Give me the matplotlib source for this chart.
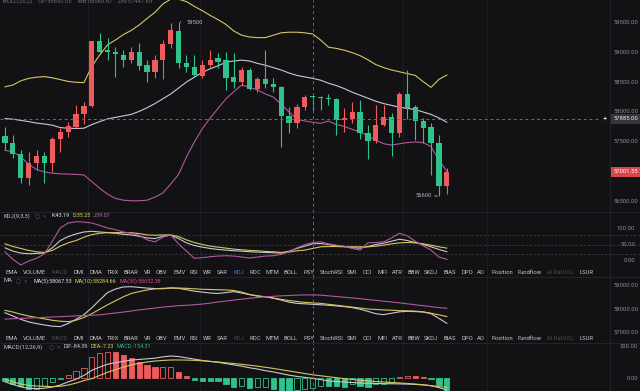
import numpy as np
import matplotlib
matplotlib.use("Agg")
import matplotlib.pyplot as plt
from matplotlib.transforms import blended_transform_factory
from matplotlib.lines import Line2D

plt.rcParams['font.family'] = ['Roboto', 'DejaVu Sans']

# ================= 数据 =================
opens  = [57600, 57478, 57300, 56906, 57144, 57267, 57156, 57544, 57661, 57756,
          57967, 58100, 59189, 59033, 58994, 58950, 58867, 58994, 58783, 58661,
          58867, 59128, 59356, 58811, 58756, 58606, 58783, 58894, 58867, 58589,
          58494, 58700, 58378, 58550, 58467, 58411, 57939, 57822, 58078, 58261,
          58250, 58233, 58211, 57867, 57883, 57994, 57644, 57517, 57783, 57922,
          57644, 58300, 58078, 57856, 57756, 57478, 56772]
closes = [57478, 57300, 56894, 57144, 57267, 57156, 57544, 57672, 57767, 57967,
          58100, 59189, 59006, 58994, 58967, 58867, 58994, 58772, 58661, 58867,
          59128, 59367, 58811, 58756, 58617, 58783, 58867, 58839, 58572, 58494,
          58700, 58378, 58550, 58467, 58411, 57939, 57822, 58078, 58244, 58250,
          58239, 58222, 57867, 57894, 57994, 57644, 57517, 57783, 57922, 57644,
          58300, 58061, 57856, 57739, 57478, 56772, 57001.55]
highs  = [57756, 57617, 57367, 57339, 57367, 57339, 57589, 57728, 57839, 58117,
          58172, 59189, 59311, 59228, 59089, 59033, 59089, 59144, 58867, 58950,
          59200, 59489, 59500, 58950, 58950, 58867, 59033, 58978, 59006, 58978,
          58756, 58728, 58589, 59033, 58561, 58433, 58089, 58133, 58283, 58272,
          58261, 58294, 58228, 58061, 58172, 58200, 57783, 58117, 58117, 57978,
          58339, 58700, 58117, 57894, 57822, 57617, 57061]
lows   = [57367, 57228, 56811, 56783, 57033, 56811, 57006, 57339, 57589, 57728,
          57800, 58090, 58978, 58867, 58589, 58756, 58811, 58700, 58506, 58561,
          58544, 59061, 58728, 58672, 58589, 58572, 58756, 58728, 58367, 58394,
          58433, 58367, 58339, 58394, 58339, 57422, 57644, 57728, 58033, 58033,
          58039, 58117, 57617, 57672, 57811, 57544, 57211, 57489, 57767, 57267,
          57578, 57878, 57533, 57489, 56950, 56600, 56633]

boll_up = [58420, 58450, 58520, 58560, 58580, 58590, 58570, 58540, 58510, 58495,
           58490, 58760, 58950, 59120, 59200, 59290, 59360, 59450, 59560, 59660,
           59800, 59880, 59880, 59840, 59760, 59690, 59610, 59540, 59460, 59350,
           59280, 59250, 59240, 59240, 59280, 59320, 59330, 59330, 59320, 59300,
           59200, 59080, 59060, 59030, 58990, 58940, 58870, 58790, 58740, 58700,
           58670, 58640, 58610, 58506, 58411, 58544, 58617]
boll_mb = [57890, 57880, 57860, 57840, 57815, 57800, 57780, 57740, 57730, 57725,
           57730, 57790, 57840, 57885, 57910, 57935, 57960, 58010, 58070, 58140,
           58220, 58300, 58400, 58500, 58580, 58660, 58720, 58770, 58830, 58850,
           58865, 58850, 58810, 58780, 58740, 58700, 58650, 58610, 58585, 58560,
           58530, 58480, 58440, 58390, 58330, 58280, 58230, 58180, 58140, 58110,
           58080, 58060, 58040, 58000, 57960, 57900, 57830]
boll_dn = [57360, 57340, 57250, 57130, 57040, 57000, 56980, 56970, 56965, 56960,
           56950, 56840, 56730, 56630, 56560, 56530, 56520, 56520, 56530, 56580,
           56650, 56800, 56960, 57250, 57500, 57720, 57900, 58060, 58220, 58340,
           58450, 58410, 58370, 58300, 58250, 58130, 58000, 57880, 57850, 57830,
           57810, 57850, 57790, 57760, 57710, 57670, 57600, 57530, 57470, 57450,
           57470, 57490, 57500, 57490, 57420, 57200, 57010]

kdj_k = [40, 30, 24, 22, 23, 24, 40, 62, 74, 82, 88, 90, 88, 86, 84, 81, 79, 75, 70, 68,
         75, 78, 68, 55, 47, 42, 38, 35, 33, 31, 30, 28, 27, 26, 25, 24, 30, 38, 45, 52,
         53, 50, 46, 44, 40, 39, 44, 50, 54, 60, 66, 62, 56, 50, 43, 35, 28]
kdj_d = [52, 44, 38, 32, 28, 26, 32, 45, 55, 62, 72, 80, 84, 86, 86, 86, 86, 83, 79, 78,
         79, 79, 74, 64, 56, 50, 45, 42, 39, 36, 34, 32, 31, 29, 28, 26, 27, 31, 33, 38,
         43, 44, 44, 43, 43, 43, 43, 45, 48, 52, 55, 56, 55, 52, 48, 43, 39]
kdj_j = [28, 5, -12, 0, 8, 22, 60, 100, 115, 119, 118, 115, 108, 100, 95, 88, 84, 78, 64, 58,
         72, 79, 52, 30, 8, 10, 13, 15, 16, 15, 12, 9, 12, 15, 16, 20, 28, 40, 50, 56,
         58, 52, 48, 45, 38, 33, 55, 56, 58, 70, 84, 76, 60, 46, 33, 12, 5]

ma5 = [57840, 57700, 57560, 57450, 57380, 57320, 57270, 57250, 57380, 57560,
       57760, 58050, 58380, 58700, 58850, 58940, 58950, 58920, 58890, 58870,
       58860, 58900, 58880, 58820, 58760, 58720, 58680, 58660, 58700, 58740,
       58680, 58610, 58550, 58520, 58460, 58380, 58290, 58240, 58220, 58200,
       58180, 58160, 58130, 58100, 58060, 57990, 57900, 57800, 57760, 57820,
       57880, 57900, 57890, 57870, 57800, 57600, 57390]
ma10 = [57940, 57870, 57780, 57700, 57640, 57580, 57520, 57480, 57460, 57520,
        57640, 57800, 57990, 58180, 58350, 58520, 58660, 58740, 58810, 58860,
        58880, 58890, 58890, 58880, 58860, 58840, 58830, 58820, 58810, 58790,
        58720, 58620, 58560, 58520, 58470, 58410, 58360, 58320, 58280, 58260,
        58240, 58200, 58160, 58120, 58080, 58040, 58000, 57980, 57960, 57950,
        57930, 57920, 57910, 57880, 57820, 57750, 57680]
ma30 = [57570, 57585, 57600, 57615, 57630, 57645, 57660, 57675, 57690, 57705,
        57720, 57735, 57750, 57790, 57830, 57870, 57915, 57960, 58000, 58040,
        58080, 58110, 58140, 58160, 58180, 58210, 58250, 58300, 58340, 58380,
        58420, 58455, 58490, 58520, 58540, 58560, 58575, 58590, 58600, 58600,
        58590, 58560, 58530, 58500, 58470, 58440, 58400, 58370, 58330, 58300,
        58260, 58220, 58180, 58140, 58100, 58060, 58030]

macd_hist = [-53, -94, -130, -170, -165, -130, -55, -15, 45, 105,
             160, 330, 385, 410, 400, 359, 308, 255, 200, 165,
             170, 175, 98, 31, -35, -40, -42, -45, -100, -140,
             -130, -150, -145, -140, -170, -200, -210, -190, -170, -150,
             -120, -125, -130, -135, -90, -120, -140, -100, -90, -60,
             20, 35, 30, 15, -15, -115, -190]
dif = [-60, -100, -140, -160, -165, -160, -140, -110, -60, -20,
       40, 120, 170, 215, 240, 260, 280, 290, 300, 310,
       330, 344, 335, 315, 295, 275, 260, 245, 225, 205,
       185, 160, 140, 115, 95, 70, 45, 25, 10, -5,
       -25, -45, -55, -62, -70, -78, -83, -85, -88, -90,
       -92, -95, -100, -108, -120, -150, -188]
dea = [-20, -60, -95, -115, -125, -130, -135, -130, -110, -80,
       -40, -10, 40, 90, 130, 170, 205, 230, 250, 265,
       275, 281, 282, 280, 276, 268, 258, 250, 238, 226,
       214, 200, 185, 168, 150, 130, 110, 90, 70, 50,
       35, 20, 5, -10, -22, -35, -45, -55, -63, -70,
       -78, -85, -95, -105, -120, -135, -145]

price_ticks = [59500, 59000, 58500, 58000, 57500, 57000, 56500]
kdj_ticks = [100, 50, 0]
kdj_levels = [80, 50, 20]
ma_ticks = [59000, 58000, 57000]
macd_ticks = [500, 0]
crosshair_idx = 39
crosshair_price = 57885
last_price = 57001.55
max_label, min_label = "59500", "56600"

tabs = ["EMA", "VOLUME", "MACD", "DMI", "DMA", "TRIX", "BRAR", "VR", "OBV", "EMV", "RSI",
        "WR", "SAR", "KDJ", "ROC", "MTM", "BOLL", "PSY", "StochRSI", "SMI", "CCI", "MFI",
        "ATR", "BBW", "SKDJ", "BIAS", "DPO", "AO", "Position", "Fundflow", "AI RatVOL", "LSUR"]
tab_x = [6, 23, 52, 73, 89, 107, 124, 144, 156, 173, 190, 203, 217, 233, 249, 266, 283,
         303, 320, 347, 363, 377, 392, 407, 424, 443, 461, 477, 491, 517, 547, 579]

# ================= 样式 =================
BG = '#121215'
RED = '#ef5a5c'
GREEN = '#2fc28a'
YEL = '#d6c560'
WHT = '#c9c9d4'
PNK = '#b2589c'
GRID = '#202025'
TXT = '#8c8e95'
FS = 4.2

W, H = 640, 391
STEP = 7.89
n = len(opens)
idx = np.arange(n)
xlim = (-5 / STEP, (W - 5) / STEP)

fig = plt.figure(figsize=(W / 100, H / 100), dpi=100, facecolor=BG)


def panel(top, bottom, ylim):
    ax = fig.add_axes([0, 1 - bottom / H, 1, (bottom - top) / H])
    ax.set_facecolor(BG)
    ax.set_xlim(*xlim)
    ax.set_ylim(*ylim)
    ax.axis('off')
    for gx in [88, 200, 403, 487]:
        ax.axvline((gx - 5) / STEP, color=GRID, lw=0.6, zorder=0)
    ax.axvline(crosshair_idx, color='#6c6c72', lw=0.7, ls=(0, (3, 3)), zorder=5)
    return ax


def right_label(ax, y, s, color=TXT, x=638):
    tr = blended_transform_factory(ax.transAxes, ax.transData)
    ax.text(x / W, y, s, transform=tr, ha='right', va='center', fontsize=FS, color=color,
            clip_on=True)


# ================= 主图 =================
ax = panel(0, 212, (56333, 59867))
for i in idx:
    o, c = opens[i], closes[i]
    col = RED if c >= o else GREEN
    ax.vlines(i, lows[i], highs[i], color=col, lw=0.8, zorder=3)
    ax.bar(i, max(abs(c - o), 10), bottom=min(o, c), width=0.66, color=col, zorder=3,
           linewidth=0)
ax.plot(idx, boll_up, color=YEL, lw=0.8, zorder=2)
ax.plot(idx, boll_mb, color=WHT, lw=0.8, zorder=2)
ax.plot(idx, boll_dn, color=PNK, lw=0.8, zorder=2)
ax.axhline(crosshair_price, xmax=600 / W, color='#6c6c72', lw=0.7, ls=(0, (3, 3)), zorder=5)
for t in price_ticks:
    right_label(ax, t, f"{t:.2f}")

hi_i = int(np.argmax(highs))
ax.annotate(max_label, xy=(hi_i + 0.2, highs[hi_i]), xytext=(hi_i + 1.0, highs[hi_i]),
            fontsize=FS, color='#b8b8c0', va='center',
            arrowprops=dict(arrowstyle='-', color='#b8b8c0', lw=0.6))
lo_i = int(np.argmin(lows))
ax.annotate(min_label, xy=(lo_i - 0.2, lows[lo_i]), xytext=(lo_i - 0.9, lows[lo_i]),
            fontsize=FS, color='#b8b8c0', va='center', ha='right',
            arrowprops=dict(arrowstyle='-', color='#b8b8c0', lw=0.6))

tr = blended_transform_factory(ax.transAxes, ax.transData)
ax.text(638 / W, crosshair_price, f"{crosshair_price:.2f}", transform=tr, ha='right',
        va='center', fontsize=FS, color='#e6e6ea', zorder=7,
        bbox=dict(boxstyle='square,pad=0.45', fc='#34363c', ec='none'))
ax.text(605 / W, crosshair_price, "+", transform=tr, ha='center', va='center',
        fontsize=5.5, color='#e6e6ea', zorder=8)
ax.text(638 / W, last_price, f"{last_price:.2f}", transform=tr, ha='right', va='center',
        fontsize=FS, color='white', zorder=7,
        bbox=dict(boxstyle='square,pad=0.45', fc='#d9464d', ec='none'))
fig.text(3 / W, 1 - 1 / H, "BOLL(20,2)    UP:59692.05    MB:58569.87    DN:57447.69",
         fontsize=FS, color='#6e7078', va='center')

# ================= KDJ =================
ax = panel(212, 277, (-48.5, 148.5))
ax.plot(idx, kdj_k, color=WHT, lw=0.8)
ax.plot(idx, kdj_d, color=YEL, lw=0.8)
ax.plot(idx, kdj_j, color=PNK, lw=0.8)
for lv in kdj_levels:
    ax.axhline(lv, color='#3a3a40', lw=0.6, ls=(0, (3, 2)), zorder=0)
for t in kdj_ticks:
    right_label(ax, t, f"{t:.2f}", x=635)

# ================= MA =================
ax = panel(277, 343, (56553, 59362))
ax.plot(idx, ma5, color=WHT, lw=0.8)
ax.plot(idx, ma10, color=YEL, lw=0.8)
ax.plot(idx, ma30, color=PNK, lw=0.8)
for t in ma_ticks:
    right_label(ax, t, f"{t:.2f}")

# ================= MACD =================
ax = panel(343, 391, (-203, 547))
for i in idx:
    v = macd_hist[i]
    col = RED if v >= 0 else GREEN
    hollow = i > 0 and v > macd_hist[i - 1]
    ax.bar(i, v, width=0.66, facecolor=BG if hollow else col, edgecolor=col,
           linewidth=0.6, zorder=2)
ax.plot(idx, dif, color=WHT, lw=0.8, zorder=3)
ax.plot(idx, dea, color=YEL, lw=0.8, zorder=3)
for t in macd_ticks:
    right_label(ax, t, f"{t:.2f}")

# ================= 分隔线 / 文字 =================
for yy in [212, 277, 343]:
    fig.add_artist(Line2D([0, 1], [1 - yy / H] * 2, color='#26262b', lw=0.6))
fig.add_artist(Line2D([610 / W] * 2, [0, 1], color='#26262b', lw=0.6))


def ftxt(x, y, s, color, size=FS):
    return fig.text(x / W, 1 - y / H, s, fontsize=size, color=color, va='center', ha='left')


for row_y, kdj_col in [(272, '#3f7fe0'), (338, '#4a4a50')]:
    for name, tx in zip(tabs, tab_x):
        c = '#c4c4ca'
        if name in ("MACD", "AI RatVOL"):
            c = '#4a4a50'
        if name == "KDJ":
            c = kdj_col
        ftxt(tx, row_y, name, c)

renderer = fig.canvas.get_renderer()


def header(y, title, items, icon_x, x0):
    ftxt(3, y, title, '#c4c4ca')
    ftxt(icon_x, y, "\u25cb  \u00d7", '#55555c')
    x = x0
    for s, col in items:
        t = ftxt(x, y, s, col, size=3.9)
        x += t.get_window_extent(renderer).width + 3


header(216, "KDJ(9,3,3)", [("K:43.19", '#e4e4ea'), ("D:35.25", '#e8d44d'),
                           ("J:59.07", '#d060b4')], 35, 51)
header(281, "MA", [("MA(5):58067.53", '#e4e4ea'), ("MA(10):58284.66", '#e8d44d'),
                   ("MA(30):58652.38", '#d0509a')], 16, 33)
header(347, "MACD(12,26,9)", [("DIF:-84.39", '#d6d6e0'), ("DEA:-7.23", '#e8d44d'),
                              ("MACD:-154.31", GREEN)], 49, 63)

fig.savefig("out.png", dpi=100, facecolor=BG)
